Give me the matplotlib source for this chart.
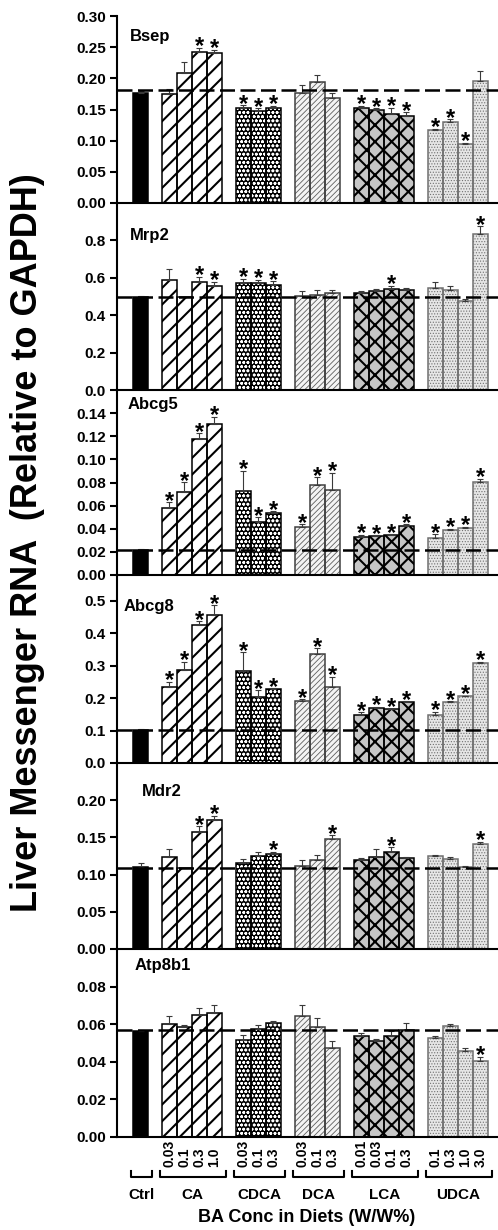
import matplotlib
matplotlib.use("Agg")
import matplotlib.pyplot as plt
from matplotlib.lines import Line2D
from matplotlib.ticker import FormatStrFormatter
from matplotlib.transforms import blended_transform_factory

plt.rcParams.update({
    "font.family": "Liberation Sans",
    "font.weight": "bold",
    "axes.linewidth": 1.5,
    "xtick.major.size": 0,
    "ytick.major.size": 5,
    "ytick.major.width": 1.5,
    "ytick.labelsize": 11,
    "ytick.major.pad": 3,
})

# ---- data ----
groups = ["Ctrl", "CA", "CDCA", "DCA", "LCA", "UDCA"]
conc = [[],
        ["0.03", "0.1", "0.3", "1.0"],
        ["0.03", "0.1", "0.3"],
        ["0.03", "0.1", "0.3"],
        ["0.01", "0.03", "0.1", "0.3"],
        ["0.1", "0.3", "1.0", "3.0"]]

genes = ["Bsep", "Mrp2", "Abcg5", "Abcg8", "Mdr2", "Atp8b1"]

# order: Ctrl | CA x4 | CDCA x3 | DCA x3 | LCA x4 | UDCA x4
bsep_mean = [0.176, 0.175, 0.209, 0.242, 0.241, 0.152, 0.148, 0.153, 0.177, 0.194, 0.169,
             0.153, 0.149, 0.142, 0.140, 0.117, 0.130, 0.094, 0.195]
bsep_err = [0.003, 0.008, 0.017, 0.007, 0.005, 0.005, 0.004, 0.003, 0.012, 0.012, 0.008,
            0.003, 0.003, 0.011, 0.006, 0.002, 0.004, 0.003, 0.017]
bsep_sig = [0, 0, 0, 1, 1, 1, 1, 1, 0, 0, 0, 1, 1, 1, 1, 1, 1, 1, 0]

mrp2_mean = [0.500, 0.590, 0.496, 0.577, 0.558, 0.572, 0.570, 0.561, 0.504, 0.508, 0.520,
             0.517, 0.527, 0.540, 0.533, 0.543, 0.536, 0.476, 0.835]
mrp2_err = [0.005, 0.058, 0.004, 0.028, 0.020, 0.022, 0.020, 0.020, 0.027, 0.025, 0.014,
            0.015, 0.015, 0.018, 0.015, 0.032, 0.020, 0.012, 0.042]
mrp2_sig = [0, 0, 0, 1, 1, 1, 1, 1, 0, 0, 0, 0, 0, 1, 0, 0, 0, 0, 1]

abcg5_mean = [0.022, 0.058, 0.0716, 0.1178, 0.1307, 0.0724, 0.046, 0.0534, 0.0414, 0.078, 0.0739,
              0.033, 0.0336, 0.0345, 0.042, 0.0316, 0.0388, 0.0408, 0.0805]
abcg5_err = [0.0005, 0.005, 0.0085, 0.005, 0.0063, 0.0176, 0.004, 0.0016, 0.0023, 0.0065, 0.0146,
             0.002, 0.001, 0.0008, 0.0017, 0.0037, 0.0011, 0.0009, 0.0028]
abcg5_sig = [0] + [1] * 18

abcg8_mean = [0.102, 0.236, 0.288, 0.426, 0.458, 0.284, 0.203, 0.229, 0.190, 0.337, 0.235,
              0.148, 0.171, 0.166, 0.187, 0.148, 0.189, 0.206, 0.307]
abcg8_err = [0.003, 0.015, 0.024, 0.012, 0.029, 0.057, 0.022, 0.002, 0.007, 0.017, 0.031,
             0.008, 0.002, 0.002, 0.003, 0.010, 0.002, 0.002, 0.006]
abcg8_sig = [0] + [1] * 18

mdr2_mean = [0.110, 0.124, 0.109, 0.157, 0.174, 0.116, 0.125, 0.128, 0.111, 0.119, 0.148,
             0.119, 0.124, 0.131, 0.122, 0.125, 0.121, 0.110, 0.141]
mdr2_err = [0.006, 0.010, 0.000, 0.008, 0.005, 0.005, 0.005, 0.003, 0.008, 0.008, 0.005,
            0.003, 0.010, 0.006, 0.001, 0.002, 0.003, 0.001, 0.003]
mdr2_sig = [0, 0, 0, 1, 1, 0, 0, 1, 0, 0, 1, 0, 0, 1, 0, 0, 0, 0, 1]

atp8b1_mean = [0.0562, 0.0603, 0.0584, 0.0648, 0.0660, 0.0518, 0.0574, 0.0606, 0.0646, 0.0585, 0.0473,
               0.0538, 0.0508, 0.0538, 0.0570, 0.0526, 0.0588, 0.0455, 0.0405]
atp8b1_err = [0.0008, 0.0042, 0.0012, 0.0037, 0.0040, 0.0026, 0.0023, 0.0009, 0.0058, 0.0048, 0.0035,
              0.0015, 0.0012, 0.0027, 0.0036, 0.0012, 0.0012, 0.0021, 0.0023]
atp8b1_sig = [0] * 18 + [1]

# control reference level (dashed line)
ref_level = [0.182, 0.500, 0.022, 0.101, 0.109, 0.057]

ylim_top = [0.30, 1.0, 0.16, 0.58, 0.25, 0.10]
ytick_step = [0.05, 0.2, 0.02, 0.1, 0.05, 0.02]
ytick_max = [0.30, 0.8, 0.14, 0.5, 0.20, 0.08]
ytick_fmt = ["%.2f", "%.1f", "%.2f", "%.1f", "%.2f", "%.2f"]

means = [bsep_mean, mrp2_mean, abcg5_mean, abcg8_mean, mdr2_mean, atp8b1_mean]
errs = [bsep_err, mrp2_err, abcg5_err, abcg8_err, mdr2_err, atp8b1_err]
sigs = [bsep_sig, mrp2_sig, abcg5_sig, abcg8_sig, mdr2_sig, atp8b1_sig]

# ---- style per group: face, hatch, hatch colour, hatch lw, outline ----
STYLE = {
    "Ctrl": ("black", "", "black", 1.0, "black"),
    "CA": ("white", "//", "black", 1.5, "black"),
    "CDCA": ("black", "oooo", "white", 0.8, "black"),
    "DCA": ("#f4f4f4", "//////", "#5e5e5e", 0.6, "#404040"),
    "LCA": ("#c6c6c6", "xx", "black", 1.5, "black"),
    "UDCA": ("#e6e6e6", "......", "#707070", 0.5, "#707070"),
}

GAP = 0.93
pos, grp_of, grp_span = [], [], []
start = 0.0
for g, c in zip(groups, conc):
    n = max(len(c), 1)
    for i in range(n):
        pos.append(start + i + 0.5)
        grp_of.append(g)
    grp_span.append((start, start + n))
    start += n + GAP

W, H = 498, 1230
fig = plt.figure(figsize=(W / 100, H / 100), dpi=100)
tops = [16, 203, 390, 575, 763, 949]
bots = [203, 390, 575, 763, 949, 1137]
ax_left, ax_right = 117, 498
x_lo = -(133 - 117) / 15.0
x_hi = x_lo + (ax_right - ax_left) / 15.0

title_pos = [(0.034, 0.888), (0.034, 0.824), (0.029, 0.919),
             (0.016, 0.83), (0.066, 0.849), (0.047, 0.91)]

axes = []
for k, gene in enumerate(genes):
    ax = fig.add_axes([ax_left / W, 1 - bots[k] / H,
                       (ax_right - ax_left) / W, (bots[k] - tops[k]) / H])
    ax.patch.set_alpha(0)
    axes.append(ax)
    m, e, s = means[k], errs[k], sigs[k]
    for x, v, g in zip(pos, m, grp_of):
        face, hatch, hcol, hlw, edge = STYLE[g]
        with plt.rc_context({"hatch.linewidth": hlw}):
            b = ax.bar(x, v, width=1.0, color=face, edgecolor=hcol, linewidth=0,
                       hatch=hatch, zorder=2)[0]
        if hasattr(b, "set_hatch_linewidth"):
            b.set_hatch_linewidth(hlw)
        ax.bar(x, v, width=1.0, fill=False, edgecolor=edge, linewidth=1.1, zorder=2.5)
    ax.errorbar(pos, m, yerr=[[0] * len(m), e], fmt="none", ecolor="#3a3a3a",
                elinewidth=0.8, capsize=2.5, capthick=0.8, zorder=3)
    for x, v, d, flag in zip(pos, m, e, s):
        if flag:
            ax.annotate("*", (x, v + d), xytext=(0, -4.0), textcoords="offset points",
                        ha="center", va="baseline", fontsize=17, fontweight="bold",
                        zorder=5)
    ax.axhline(ref_level[k], color="black", lw=1.8, dashes=(6, 2.2), zorder=4)

    ax.set_xlim(x_lo, x_hi)
    ax.set_ylim(0, ylim_top[k])
    n_ticks = int(round(ytick_max[k] / ytick_step[k])) + 1
    ax.set_yticks([t * ytick_step[k] for t in range(n_ticks)])
    ax.yaxis.set_major_formatter(FormatStrFormatter(ytick_fmt[k]))
    ax.set_xticks([])
    ax.spines["top"].set_visible(False)
    ax.spines["right"].set_visible(False)
    ax.text(title_pos[k][0], title_pos[k][1], gene, transform=ax.transAxes,
            ha="left", va="center", fontsize=12, fontweight="bold")

# ---- x labels under the bottom panel ----
ax = axes[-1]
tr = blended_transform_factory(ax.transData, fig.transFigure)
i = 1
for g, c in zip(groups[1:], conc[1:]):
    for lab in c:
        ax.text(pos[i], 1 - 1167 / H, lab, transform=tr, rotation=90,
                ha="center", va="bottom", fontsize=10, fontweight="bold")
        i += 1

y_br = 1 - 1177 / H
y_tk = 1 - 1171 / H
for g, (a, b) in zip(groups, grp_span):
    a0, b0 = a - 0.15, b + 0.25
    ax.add_line(Line2D([a0, a0, b0, b0], [y_tk, y_br, y_br, y_tk], transform=tr,
                       color="black", lw=1.5, clip_on=False))
    ax.text((a0 + b0) / 2, 1 - 1195 / H, g, transform=tr, ha="center", va="center",
            fontsize=11, fontweight="bold")

fig.text(307 / W, 1 - 1218 / H, "BA Conc in Diets (W/W%)", ha="center", va="center",
         fontsize=13, fontweight="bold")
fig.text(28 / W, 1 - 543 / H, "Liver Messenger RNA  (Relative to GAPDH)", rotation=90,
         ha="center", va="center", fontsize=26, fontweight="bold")

fig.savefig("out.png", dpi=100)
